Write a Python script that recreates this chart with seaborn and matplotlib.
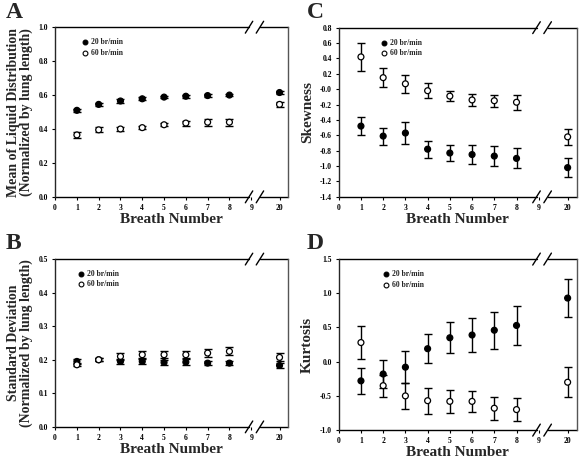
import matplotlib
matplotlib.use("Agg")
import matplotlib.pyplot as plt
import numpy as np
import pandas as pd
import seaborn as sns

# ── Data ──────────────────────────────────────────────────────────────────────
breaths = [1, 2, 3, 4, 5, 6, 7, 8, 20]
rates = ["20 br/min", "60 br/min"]

mean_20 = [0.51, 0.545, 0.565, 0.578, 0.588, 0.593, 0.597, 0.600, 0.615]
mean_20_err = [0.008, 0.010, 0.010, 0.008, 0.008, 0.008, 0.008, 0.008, 0.008]
mean_60 = [0.365, 0.395, 0.400, 0.408, 0.425, 0.435, 0.440, 0.440, 0.545]
mean_60_err = [0.020, 0.015, 0.012, 0.010, 0.010, 0.015, 0.020, 0.020, 0.015]

sd_20 = [0.195, 0.200, 0.195, 0.195, 0.192, 0.193, 0.190, 0.190, 0.183]
sd_20_err = [0.007, 0.005, 0.008, 0.008, 0.008, 0.008, 0.006, 0.007, 0.008]
sd_60 = [0.185, 0.200, 0.210, 0.215, 0.215, 0.215, 0.220, 0.225, 0.207]
sd_60_err = [0.005, 0.005, 0.010, 0.010, 0.010, 0.010, 0.012, 0.012, 0.012]

skew_20 = [-0.48, -0.61, -0.57, -0.78, -0.83, -0.85, -0.87, -0.90, -1.02]
skew_20_err = [0.12, 0.11, 0.14, 0.11, 0.11, 0.12, 0.13, 0.13, 0.12]
skew_60 = [0.42, 0.15, 0.07, -0.02, -0.09, -0.14, -0.15, -0.17, -0.62]
skew_60_err = [0.18, 0.12, 0.12, 0.10, 0.07, 0.08, 0.08, 0.10, 0.10]

kurt_20 = [-0.28, -0.18, -0.08, 0.19, 0.35, 0.39, 0.46, 0.53, 0.93]
kurt_20_err = [0.19, 0.20, 0.23, 0.21, 0.23, 0.25, 0.27, 0.28, 0.28]
kurt_60 = [0.28, -0.35, -0.50, -0.57, -0.58, -0.58, -0.68, -0.70, -0.30]
kurt_60_err = [0.24, 0.16, 0.19, 0.19, 0.17, 0.15, 0.17, 0.17, 0.22]

tick_labels = ["0", "1", "2", "3", "4", "5", "6", "7", "8", "9", "20"]

# breath 20 sits just after the axis break
X_POS = {b: (b if b <= 9 else 10.3) for b in breaths}
XMAX = 10.7
BREAK = 9.15

sns.set_theme(style="ticks")
plt.rcParams["font.family"] = ["Liberation Serif", "DejaVu Serif"]
plt.rcParams["font.weight"] = "bold"

fig = plt.figure(figsize=(5.8, 4.61), dpi=100)

panels = [
    # letter, rect, y20, e20, y60, e60, ylim, yticks, ylabel, legend x
    ("A", [0.095, 0.573, 0.402, 0.368], mean_20, mean_20_err, mean_60, mean_60_err,
     (0, 1.0), np.arange(0, 1.01, 0.2),
     "Mean of Liquid Distribution\n(Normalized by lung length)", 0.13),
    ("C", [0.584, 0.573, 0.41, 0.367], skew_20, skew_20_err, skew_60, skew_60_err,
     (-1.4, 0.8), np.arange(-1.4, 0.81, 0.2), "Skewness", 0.19),
    ("B", [0.095, 0.074, 0.402, 0.364], sd_20, sd_20_err, sd_60, sd_60_err,
     (0, 0.5), np.arange(0, 0.51, 0.1),
     "Standard Deviation\n(Normalized by lung length)", 0.11),
    ("D", [0.584, 0.067, 0.41, 0.371], kurt_20, kurt_20_err, kurt_60, kurt_60_err,
     (-1.0, 1.5), np.arange(-1.0, 1.51, 0.5), "Kurtosis", 0.20),
]

for letter, rect, y20, e20, y60, e60, ylim, yticks, ylabel, lx in panels:
    ax = fig.add_axes(rect)
    df = pd.DataFrame({
        "x": [X_POS[b] for b in breaths] * 2,
        "y": y20 + y60,
        "err": e20 + e60,
        "rate": [rates[0]] * len(breaths) + [rates[1]] * len(breaths),
    })

    for rate in rates:
        sub = df[df["rate"] == rate]
        ax.errorbar(sub["x"], sub["y"], yerr=sub["err"], fmt="none",
                    ecolor="black", elinewidth=1.0, capsize=2.7, capthick=1.0,
                    zorder=2)
    sns.scatterplot(data=df, x="x", y="y", hue="rate",
                    palette={rates[0]: "black", rates[1]: "white"},
                    edgecolor="black", linewidth=0.9, s=18, ax=ax, zorder=3,
                    legend=False)

    # legend drawn by hand (small markers + text, no frame)
    for i, (rate, face) in enumerate(zip(rates, ["black", "white"])):
        yy = 0.91 - i * 0.06
        ax.scatter([lx], [yy], transform=ax.transAxes, s=12, c=face,
                   edgecolors="black", linewidths=0.8, zorder=4)
        ax.text(lx + 0.025, yy, rate, transform=ax.transAxes, fontsize=5.5,
                va="center", ha="left", fontweight="bold")

    ax.set_xlim(0, XMAX)
    ax.set_ylim(*ylim)
    ax.set_xticks(list(range(10)) + [X_POS[20]])
    ax.set_xticklabels(tick_labels)
    ax.set_yticks(yticks)
    ax.set_yticklabels([f"{v:.1f}" for v in yticks])
    ax.tick_params(axis="both", labelsize=5.5, length=2.5, width=0.8,
                   direction="out", colors="black", pad=2.5)

    # broken top/bottom spines with "//" marks
    ax.spines["top"].set_visible(False)
    ax.spines["bottom"].set_visible(False)
    ax.spines["left"].set_linewidth(1.0)
    ax.spines["right"].set_linewidth(1.0)
    ax.spines["right"].set_color("#555555")
    tr = ax.get_xaxis_transform()
    for yv in (0, 1):
        ax.plot([0, BREAK - 0.25], [yv, yv], color="black", lw=1.0,
                transform=tr, clip_on=False)
        ax.plot([BREAK + 0.25, XMAX], [yv, yv], color="black", lw=1.0,
                transform=tr, clip_on=False)
        for cx in (BREAK - 0.25, BREAK + 0.25):
            ax.plot([cx - 0.17, cx + 0.17], [yv - 0.035, yv + 0.035],
                    color="black", lw=1.0, transform=tr, clip_on=False)

    ax.set_xlabel("Breath Number", fontsize=11, fontweight="bold", labelpad=1)
    ax.set_ylabel(ylabel, fontsize=10 if "\n" in ylabel else 11,
                  fontweight="bold", labelpad=4, linespacing=1.0)
    fig.text(rect[0] - (0.085 if letter in "AB" else 0.055),
             rect[1] + rect[3] + 0.01, letter, fontsize=17,
             fontweight="bold", ha="left", va="bottom")

fig.savefig("out.png", dpi=100)
